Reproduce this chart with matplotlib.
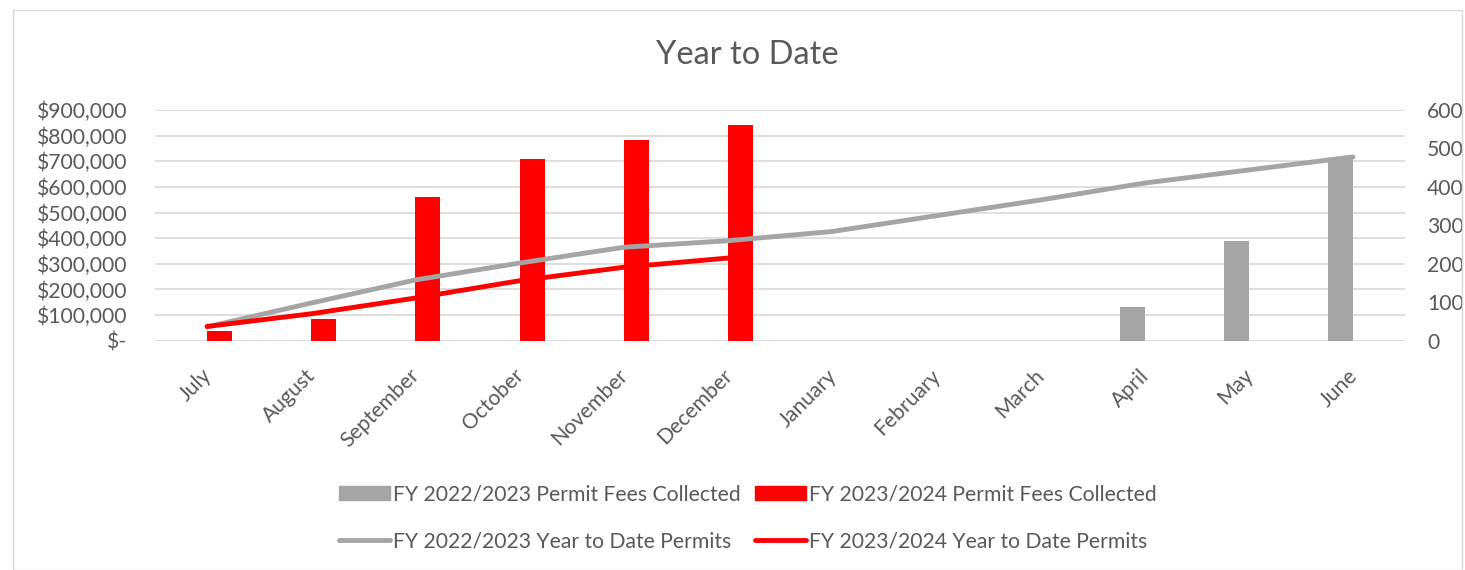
import matplotlib
matplotlib.use("Agg")
import matplotlib.pyplot as plt
import numpy as np
from matplotlib.patches import Rectangle
from matplotlib.lines import Line2D
from matplotlib.ticker import FuncFormatter
from matplotlib.transforms import ScaledTranslation

months = ["July", "August", "September", "October", "November", "December",
          "January", "February", "March", "April", "May", "June"]
fees_2223 = [0, 0, 0, 0, 0, 0, 0, 0, 0, 130000, 389000, 712000]
fees_2324 = [39000, 85000, 562000, 710000, 783000, 841000, None, None, None, None, None, None]
ytd_2223 = [36, 98, 158, 202, 243, 260, 284, 325, 366, 410, 444, 478]
ytd_2324 = [37, 70, 111, 156, 191, 215]

plt.rcParams['font.family'] = ['Lato', 'DejaVu Sans']
TXT = '#595959'
GRAY = '#a5a5a5'
RED = '#ff0000'
fs = 15.2

fig = plt.figure(figsize=(14.65, 5.7), dpi=100)
fig.patches.append(Rectangle((13/1465, 0), (1462-13)/1465, 1-10/570, transform=fig.transFigure,
                             fill=False, edgecolor='#d9d9d9', linewidth=1))
ax = fig.add_axes([155/1465, 1-340.7/570, 1250/1465, (340.7-110)/570])
x = np.arange(len(months))
w = 0.24
b1 = ax.bar(x - w/2, fees_2223, width=w, color=GRAY, zorder=2)
v2324 = [v if v is not None else 0 for v in fees_2324]
b2 = ax.bar(x + w/2, v2324, width=w, color=RED, zorder=2)
ax.set_xlim(-0.5, 11.5)
ax.set_ylim(0, 900000)
ax.set_yticks(np.arange(0, 900001, 100000))
ax.yaxis.set_major_formatter(FuncFormatter(lambda v, p: "$-" if v == 0 else f"${v:,.0f}"))
ax.grid(axis='y', color='#d9d9d9', linewidth=1.2, zorder=0)
ax.set_axisbelow(True)
for s in ax.spines.values():
    s.set_visible(False)
ax.tick_params(axis='both', length=0, colors=TXT, labelsize=fs)
ax.tick_params(axis='y', pad=20)
ax.set_xticks(x)
ax.set_xticklabels(months, rotation=45, ha='right', rotation_mode='anchor')
ax.tick_params(axis='x', pad=12)
off = ScaledTranslation(-6/100, -8/100, fig.dpi_scale_trans)
for lab in ax.get_xticklabels():
    lab.set_transform(lab.get_transform() + off)

ax2 = ax.twinx()
ax2.set_ylim(0, 600)
ax2.set_yticks(np.arange(0, 601, 100))
for s in ax2.spines.values():
    s.set_visible(False)
ax2.tick_params(axis='y', length=0, colors=TXT, labelsize=fs, pad=16)
l1, = ax2.plot(x, ytd_2223, color=GRAY, linewidth=3.5, solid_capstyle='round', zorder=3)
l2, = ax2.plot(x[:len(ytd_2324)], ytd_2324, color=RED, linewidth=3.5, solid_capstyle='round', zorder=4)

fig.text(747/1465, 1-55/570, "Year to Date", ha='center', va='center', fontsize=23.5, color=TXT)

handles = [Rectangle((0, 0), 1, 1, color=GRAY),
           Line2D([0], [0], color=GRAY, linewidth=3.5, solid_capstyle='round'),
           Rectangle((0, 0), 1, 1, color=RED),
           Line2D([0], [0], color=RED, linewidth=3.5, solid_capstyle='round')]
labels = ["FY 2022/2023 Permit Fees Collected", "FY 2022/2023 Year to Date Permits",
          "FY 2023/2024 Permit Fees Collected", "FY 2023/2024 Year to Date Permits"]
leg = fig.legend(handles, labels, ncol=2, loc='center', bbox_to_anchor=(748/1465, 1-518/570),
                 frameon=False, fontsize=fs, labelcolor=TXT, handlelength=2.4, handleheight=0.7,
                 handletextpad=0.15, columnspacing=0.7, labelspacing=1.3)

fig.savefig("out.png", dpi=100)
